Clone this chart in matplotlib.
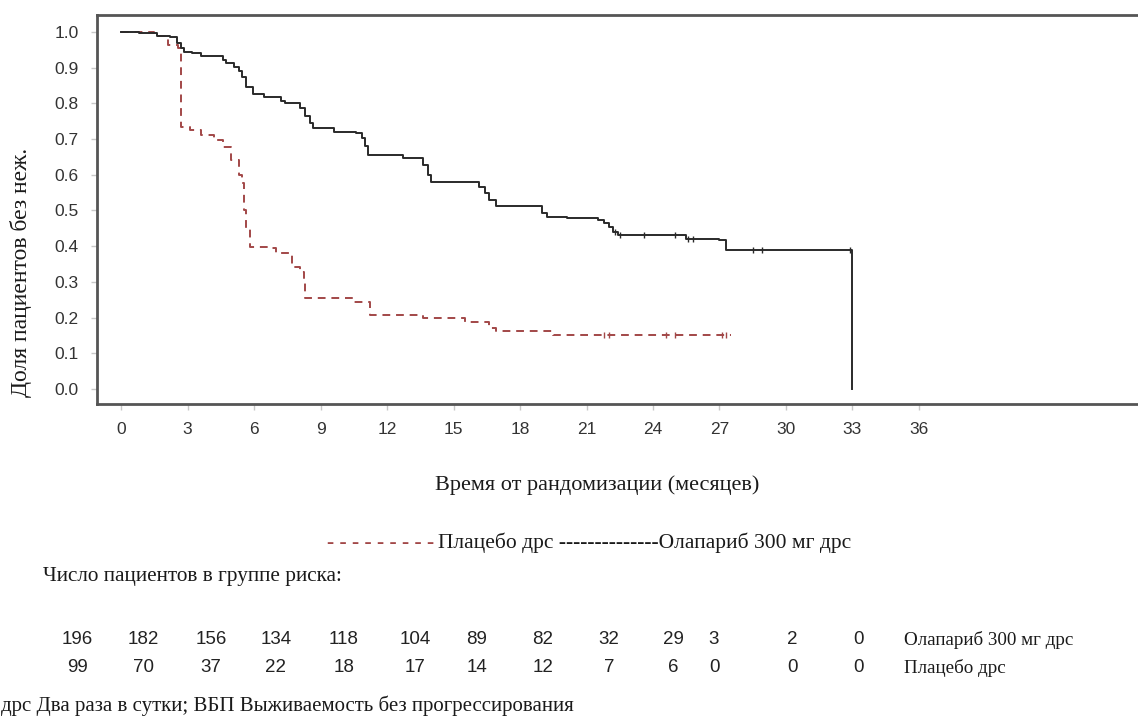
import numpy as np
import matplotlib
matplotlib.use("Agg")
import matplotlib.pyplot as plt

# Kaplan-Meier steps (months, survival)
ola_t = [0, 0.8, 1.6, 2.2, 2.5, 2.7, 2.85, 3.2, 3.6, 4.6,
         4.75, 5.1, 5.3, 5.45, 5.65, 5.95, 6.45, 7.2, 7.4, 8.05,
         8.3, 8.5, 8.65, 9.6, 10.6, 10.85, 11.0, 11.15, 12.7, 13.6,
         13.85, 14.0, 16.15, 16.4, 16.6, 16.9, 19.0, 19.2, 20.1, 21.5,
         21.8, 22.0, 22.2, 22.4, 25.5, 27.0, 27.3, 33.0]
ola_s = [1.0, 0.997, 0.99, 0.985, 0.97, 0.955, 0.945, 0.94, 0.933, 0.922,
         0.913, 0.902, 0.89, 0.874, 0.846, 0.826, 0.818, 0.808, 0.80, 0.787,
         0.765, 0.745, 0.731, 0.72, 0.717, 0.703, 0.68, 0.655, 0.647, 0.627,
         0.60, 0.58, 0.567, 0.548, 0.53, 0.513, 0.493, 0.482, 0.479, 0.473,
         0.465, 0.455, 0.44, 0.431, 0.42, 0.417, 0.39, 0.0]
ola_cens = [22.3, 22.5, 23.6, 25.0, 25.6, 25.8, 28.5, 28.9, 32.9]

pla_t = [0, 1.5, 2.1, 2.55, 2.7, 3.1, 3.6, 4.2, 4.6, 4.95,
         5.3, 5.45, 5.55, 5.65, 5.8, 6.7, 7.0, 7.7, 8.05, 8.25,
         8.3, 10.5, 11.25, 13.6, 15.5, 16.6, 16.9, 19.5]
pla_s = [1.0, 0.99, 0.964, 0.955, 0.734, 0.725, 0.711, 0.697, 0.678, 0.641,
         0.6, 0.577, 0.50, 0.45, 0.398, 0.395, 0.38, 0.342, 0.328, 0.30,
         0.255, 0.244, 0.207, 0.199, 0.188, 0.171, 0.163, 0.151]
pla_end = 27.5
pla_cens = [21.8, 22.0, 24.6, 25.0, 27.1, 27.3]

# number at risk
risk_ola = [196, 182, 156, 134, 118, 104, 89, 82, 32, 29, 3, 2, 0]
risk_pla = [99, 70, 37, 22, 18, 17, 14, 12, 7, 6, 0, 0, 0]
risk_cols = [77, 143, 211, 276, 344, 415, 477, 543, 609, 673, 714, 792, 858]

xticks = list(range(0, 37, 3))
yticks = [i / 10 for i in range(11)]

W, H = 1138, 719
RED = "#a24848"
INK = "#1a1a1a"
SERIF = "Liberation Serif"
SANS = "Liberation Sans"


def step_value(t, times, surv):
    i = np.searchsorted(times, t, side="right") - 1
    return surv[i]


def px(x, y):
    return x / W, 1 - y / H


fig = plt.figure(figsize=(W / 100, H / 100), dpi=100)
ax = fig.add_axes([97 / W, 1 - 404 / H, 1 - 97 / W + 0.01, (404 - 15) / H])

# placebo, dashed
t = pla_t + [pla_end]
s = pla_s + [pla_s[-1]]
ax.step(t, s, where="post", color=RED, lw=1.4, ls=(0, (4, 3)))
ax.plot(pla_cens, [step_value(c, pla_t, pla_s) for c in pla_cens],
        ls="none", marker="|", ms=5, mew=1, color=RED)

# olaparib, solid
ax.step(ola_t, ola_s, where="post", color="#2a2a2a", lw=1.4)
ax.plot(ola_cens, [step_value(c, ola_t, ola_s) for c in ola_cens],
        ls="none", marker="|", ms=5, mew=1, color="#2a2a2a")

ax.set_xlim(-1.09, 46.4)
ax.set_ylim(-0.042, 1.0476)
ax.set_xticks(xticks)
ax.set_yticks(yticks)
ax.set_yticklabels([f"{v:.1f}" for v in yticks])
for side in ["left", "bottom", "top"]:
    ax.spines[side].set_linewidth(2)
    ax.spines[side].set_color("#555555")
ax.spines["right"].set_visible(False)
ax.tick_params(length=4, width=1, color="#c8c8c8", labelcolor="#333333",
               labelsize=12.5, pad=9)
for lab in ax.get_xticklabels() + ax.get_yticklabels():
    lab.set_family(SANS)

fig.text(*px(21, 272), "Доля пациентов без неж.", rotation=90, ha="center",
         va="center", family=SERIF, fontsize=17, color=INK)
fig.text(*px(597, 485), "Время от рандомизации (месяцев)", ha="center",
         va="center", family=SERIF, fontsize=16, color=INK)

# legend line under the axis title
fig.text(*px(434, 543), "- - - - - - - - -", ha="right", va="center",
         family=SERIF, fontsize=15.5, color=RED)
fig.text(*px(438, 543), "Плацебо дрс --------------Олапариб 300 мг дрс",
         ha="left", va="center", family=SERIF, fontsize=15.5, color=INK)

fig.text(*px(43, 577), "Число пациентов в группе риска:", ha="left",
         va="center", family=SERIF, fontsize=15.3, color=INK)
for x, a, b in zip(risk_cols, risk_ola, risk_pla):
    fig.text(*px(x, 640), str(a), ha="center", va="center", family=SANS,
             fontsize=13.5, color="#222222")
    fig.text(*px(x, 668), str(b), ha="center", va="center", family=SANS,
             fontsize=13.5, color="#222222")
fig.text(*px(904, 640), "Олапариб 300 мг дрс", ha="left", va="center",
         family=SERIF, fontsize=13.7, color=INK)
fig.text(*px(904, 668), "Плацебо дрс", ha="left", va="center",
         family=SERIF, fontsize=13.7, color=INK)

fig.text(*px(1, 706), "дрс Два раза в сутки; ВБП Выживаемость без прогрессирования",
         ha="left", va="center", family=SERIF, fontsize=15, color=INK)

fig.savefig("out.png", dpi=100)
